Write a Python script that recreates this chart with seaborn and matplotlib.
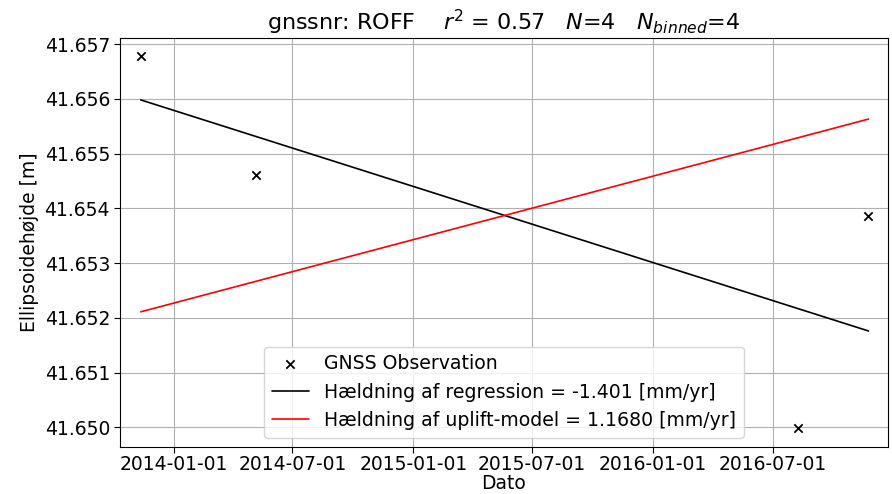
import numpy as np
import pandas as pd
import seaborn as sns
import matplotlib.pyplot as plt
import matplotlib.dates as mdates

obs_dates = ["2013-11-12", "2014-05-07", "2016-08-08", "2016-11-24"]
obs_height = [41.65678, 41.65461, 41.64998, 41.65386]

# line end points (first/last observation)
line_dates = ["2013-11-12", "2016-11-24"]
regression_height = [41.65598, 41.65176]
uplift_height = [41.65211, 41.65563]

obs = pd.DataFrame({"Dato": pd.to_datetime(obs_dates), "h": obs_height})
lines = pd.DataFrame({"Dato": pd.to_datetime(line_dates),
                      "reg": regression_height, "upl": uplift_height})

sns.set_style("ticks")
plt.rcParams['font.family'] = ['DejaVu Sans']
plt.rcParams.update({"text.color": "black", "axes.labelcolor": "black",
                     "xtick.color": "black", "ytick.color": "black"})

fig, ax = plt.subplots(figsize=(8.92, 4.94), dpi=100)
sns.scatterplot(data=obs, x="Dato", y="h", marker="x", color="black", s=36,
                linewidth=1.3, label="GNSS Observation", ax=ax, zorder=3)
sns.lineplot(data=lines, x="Dato", y="reg", color="black", linewidth=1.2,
             label="Hældning af regression = -1.401 [mm/yr]", ax=ax)
sns.lineplot(data=lines, x="Dato", y="upl", color="red", linewidth=1.2,
             label="Hældning af uplift-model = 1.1680 [mm/yr]", ax=ax)

ax.set_xlim(pd.Timestamp("2013-10-12"), pd.Timestamp("2016-12-23"))
ax.set_ylim(41.64964, 41.65711)
ax.xaxis.set_major_locator(mdates.MonthLocator(bymonth=[1, 7]))
ax.xaxis.set_major_formatter(mdates.DateFormatter("%Y-%m-%d"))
ax.yaxis.set_major_formatter(plt.FormatStrFormatter("%.3f"))
ax.grid(True, color="#b0b0b0", linewidth=0.8)
for s in ax.spines.values():
    s.set_visible(True)
    s.set_color("black")

ax.tick_params(axis="both", labelsize=13.5, length=4.5, pad=3)
ax.tick_params(axis="x", pad=1.5)

ax.set_title(r"gnssnr: ROFF    $r^2$ = 0.57   $N$=4   $N_{binned}$=4", fontsize=16)
ax.set_xlabel("Dato", fontsize=13.5, labelpad=0)
ax.set_ylabel("Ellipsoidehøjde [m]", fontsize=13.5)
ax.legend(loc="lower center", fontsize=13.6, frameon=True)

plt.subplots_adjust(left=0.135, right=0.995, top=0.923, bottom=0.095)
plt.savefig("out.png", dpi=100)
plt.close()
